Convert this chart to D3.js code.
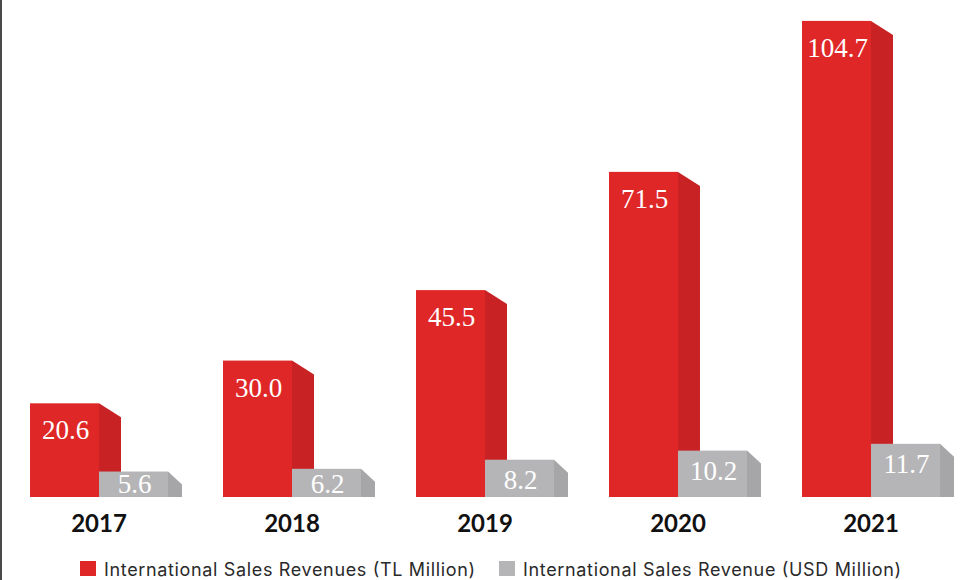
<!DOCTYPE html>
<html>
<head>
<meta charset="utf-8">
<script src="https://cdn.jsdelivr.net/npm/d3@7"></script>
<style>
  html, body { margin: 0; padding: 0; background: #fff; }
  svg { display: block; }
</style>
</head>
<body>
<svg id="chart" width="969" height="580"></svg>
<script>
// Data
const years = ["2017", "2018", "2019", "2020", "2021"];
const tlRevenue = [20.6, 30.0, 45.5, 71.5, 104.7];
const usdRevenue = [5.6, 6.2, 8.2, 10.2, 11.7];
const seriesNames = ["International Sales Revenues (TL Million)", "International Sales Revenue (USD Million)"];
const valueLabels = [["20.6", "30.0", "45.5", "71.5", "104.7"], ["5.6", "6.2", "8.2", "10.2", "11.7"]];

const W = 969, H = 580;
const svg = d3.select("#chart");

const baseY = 497;
const y = d3.scaleLinear().domain([0, 106]).range([baseY, 15]);

const x = d3.scaleBand().domain(years).range([30, 940]).paddingInner(55 / 193).paddingOuter(0);
const xs = d3.scaleBand().domain(["tl", "usd"]).range([0, x.bandwidth()]);

const styles = {
  tl:  { front: "#e02728", side: "#c92224", depth: 22, drop: 14 },
  usd: { front: "#b5b5b7", side: "#a6a6a9", depth: 14, drop: 13 }
};

// left frame line
svg.append("rect").attr("x", 0).attr("y", 0).attr("width", 2).attr("height", H).attr("fill", "#4a4a4a");

const rows = years.map((yr, i) => ({ year: yr, tl: tlRevenue[i], usd: usdRevenue[i], i }));

function drawBar(g, key, value, label) {
  const st = styles[key];
  const x0 = xs(key), w = xs.bandwidth();
  const top = y(value);
  // front face
  g.append("rect").attr("x", x0).attr("y", top).attr("width", w).attr("height", baseY - top).attr("fill", st.front);
  // bevelled side face
  const x1 = x0 + w, x2 = x1 + st.depth;
  g.append("path")
    .attr("d", `M${x1},${top}L${x2},${top + st.drop}L${x2},${baseY}L${x1},${baseY}Z`)
    .attr("fill", st.side);
  // value label
  const by = key === "tl" ? top + 36 : Math.min(top + 29, baseY - 4);
  g.append("text")
    .attr("x", x0 + w / 2 + 1).attr("y", by)
    .attr("text-anchor", "middle")
    .attr("fill", "#ffffff")
    .attr("font-family", "'Liberation Serif', 'DejaVu Serif', serif")
    .attr("font-size", 27)
    .text(label);
}

const groups = svg.selectAll("g.year").data(rows).join("g")
  .attr("class", "year")
  .attr("transform", d => `translate(${x(d.year)},0)`);

groups.each(function(d) {
  const g = d3.select(this);
  drawBar(g, "tl", d.tl, valueLabels[0][d.i]);
  drawBar(g, "usd", d.usd, valueLabels[1][d.i]);
  g.append("text")
    .attr("x", x.bandwidth() / 2).attr("y", 532)
    .attr("text-anchor", "middle")
    .attr("fill", "#111")
    .attr("font-family", "Lato, 'Noto Sans', sans-serif")
    .attr("font-weight", 700)
    .attr("font-size", 24)
    .text(d.year);
});

// Legend
const legendItems = [
  { name: seriesNames[0], color: styles.tl.front, x: 80, len: 371 },
  { name: seriesNames[1], color: styles.usd.front, x: 499, len: 378 }
];
const lg = svg.selectAll("g.legend").data(legendItems).join("g")
  .attr("class", "legend")
  .attr("transform", d => `translate(${d.x},561)`);
lg.append("rect").attr("width", 16).attr("height", 15).attr("fill", d => d.color);
lg.append("text")
  .attr("x", 24).attr("y", 15)
  .attr("fill", "#2a2a2a")
  .attr("font-family", "Inter, 'Noto Sans', sans-serif")
  .attr("font-size", 18)
  .attr("textLength", d => d.len)
  .attr("lengthAdjust", "spacing")
  .text(d => d.name);
</script>
</body>
</html>
